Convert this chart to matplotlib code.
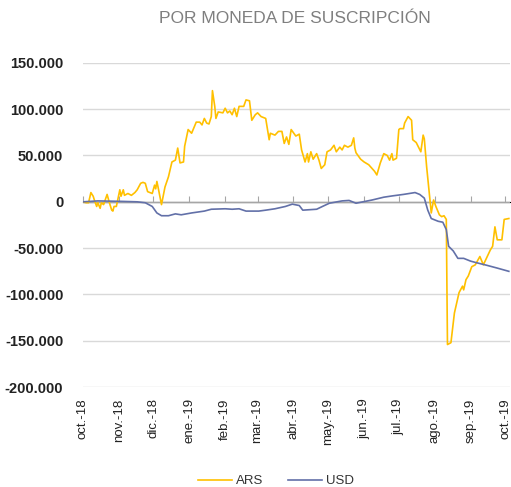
import matplotlib.pyplot as plt
import pandas as pd

# days since 1 Oct 2018, values in thousands
ars_day = [0, 3, 5, 7, 9, 10, 12, 13, 15, 16, 18, 21, 23, 25, 26, 27, 29, 32, 33, 35, 36, 39, 42, 45, 47,
           50, 52, 54, 56, 60, 62, 63, 64, 65, 68, 71, 74, 77, 80, 82, 84, 87, 88, 91, 94, 98, 101, 103, 105,
           107, 109, 111, 112, 114, 115, 117, 121, 123, 125, 127, 129, 131, 133, 135, 139, 141, 144, 146, 149,
           151, 154, 158, 161, 162, 166, 169, 172, 174, 176, 178, 180, 184, 187, 189, 192, 194, 195, 197, 199,
           202, 204, 206, 209, 211, 214, 217, 219, 222, 224, 226, 229, 232, 234, 235, 236, 240, 243, 247, 252,
           254, 257, 260, 263, 265, 267, 268, 271, 273, 274, 277, 278, 281, 284, 285, 288, 292, 294, 295, 297,
           300, 301, 303, 305, 308, 310, 312, 314, 315, 318, 321, 325, 328, 329, 331, 333, 336, 339, 343, 346,
           349, 352, 354, 356, 358, 362, 364, 368]
ars_val = [0, -1, -1, 10, 6, 2, -5, -1, -7, -1, -3, 8, -1, -9, -10, -5, -5, 13, 6, 13, 7, 9, 7, 10, 13,
           20, 21, 20, 11, 9, 18, 14, 22, 16, -3, 16, 27, 43, 45, 58, 42, 43, 60, 78, 74, 86, 86, 83, 90,
           85, 84, 92, 120, 103, 90, 97, 96, 101, 96, 98, 94, 101, 92, 103, 103, 110, 109, 88, 94,
           96, 92, 90, 67, 74, 72, 76, 76, 63, 70, 62, 78, 71, 73, 56, 43, 52, 43, 54, 46,
           52, 45, 36, 40, 54, 56, 61, 54, 59, 56, 61, 59, 61, 69, 58, 53, 46, 43, 40, 33,
           29, 42, 52, 50, 45, 52, 45, 47, 78, 79, 79, 85, 92, 88, 67, 64, 54, 72, 68, 38,
           0, -12, 2, -5, -14, -16, -15, -19, -154, -152, -120, -98, -91, -95, -84, -80, -70, -68, -59, -68,
           -60, -52, -48, -27, -41, -41, -19, -18]

usd_day = [0, 13, 33, 47, 54, 60, 64, 68, 74, 80, 85, 94, 105, 111, 123, 129, 135, 141, 152, 158, 166, 175,
           181, 187, 190, 196, 202, 207, 213, 224, 230, 236, 242, 250, 260, 268, 277, 282, 287, 291, 295,
           298, 301, 307, 311, 314, 316, 320, 324, 329, 335, 341, 349, 358, 368]
usd_val = [0, 1, 0.5, 0, -1, -5, -12, -15, -15, -13, -14, -12, -10, -8, -7.5, -8, -7.5, -10, -10, -9, -7.5, -5,
           -2.5, -4, -9, -8.5, -8, -5, -1.5, 1, 1.5, -1.5, 0, 2, 5, 6.5, 8, 9, 10, 8, 4,
           -9, -18, -21, -22, -30, -48, -53, -61, -61, -64, -66, -68.5, -71.5, -75]

month_labels = ['oct.-18', 'nov.-18', 'dic.-18', 'ene.-19', 'feb.-19', 'mar.-19', 'abr.-19',
                'may.-19', 'jun.-19', 'jul.-19', 'ago.-19', 'sep.-19', 'oct.-19']
y_ticks = [150000, 100000, 50000, 0, -50000, -100000, -150000, -200000]

start = pd.Timestamp('2018-10-01')
ars_x = start + pd.to_timedelta(ars_day, unit='D')
usd_x = start + pd.to_timedelta(usd_day, unit='D')
months = pd.date_range('2018-10-01', '2019-10-01', freq='MS')

fig = plt.figure(figsize=(5.11, 4.87), dpi=100)
ax = fig.add_axes([0.162, 0.205, 0.836, 0.666])

ax.plot(ars_x, [v * 1000 for v in ars_val], color='#FFC000', lw=1.2, label='ARS')
ax.plot(usd_x, [v * 1000 for v in usd_val], color='#6270A8', lw=1.2, label='USD')

ax.set_xlim(months[0], pd.Timestamp('2019-10-05'))
ax.set_ylim(-200000, 150000)
ax.set_yticks(y_ticks)
ax.set_yticklabels([f'{v:,}'.replace(',', '.') for v in y_ticks],
                   fontsize=10.5, fontweight='bold', color='#222222', family='Liberation Sans')
ax.tick_params(axis='y', length=0, pad=14)
ax.grid(axis='y', color='#D9D9D9', lw=1)
ax.set_axisbelow(True)
for s in ax.spines.values():
    s.set_visible(False)

ax.set_xticks(months)
ax.set_xticklabels(month_labels, rotation=90, fontsize=9.5, color='#222222', family='Liberation Sans')
ax.tick_params(axis='x', length=0, pad=8)

# axis line at zero with tick marks
ax.axhline(0, color='#A6A6A6', lw=1, zorder=1)
sec = ax.secondary_xaxis(200 / 350)
sec.set_xticks(months)
sec.set_xticklabels([])
sec.tick_params(axis='x', length=4, color='#A6A6A6', direction='out')
sec.spines['bottom'].set_visible(False)

fig.text(0.578, 0.963, 'POR MONEDA DE SUSCRIPCIÓN', ha='center', va='center',
         fontsize=12.5, color='#7F7F7F', family='Liberation Sans')

fig.legend(loc='center', bbox_to_anchor=(0.54, 0.012), ncol=2, frameon=False,
           prop={'family': 'Liberation Sans', 'size': 9.5}, handlelength=2.6, columnspacing=1.8,
           handletextpad=0.3, labelcolor='#333333')

fig.savefig('out.png', dpi=100)
